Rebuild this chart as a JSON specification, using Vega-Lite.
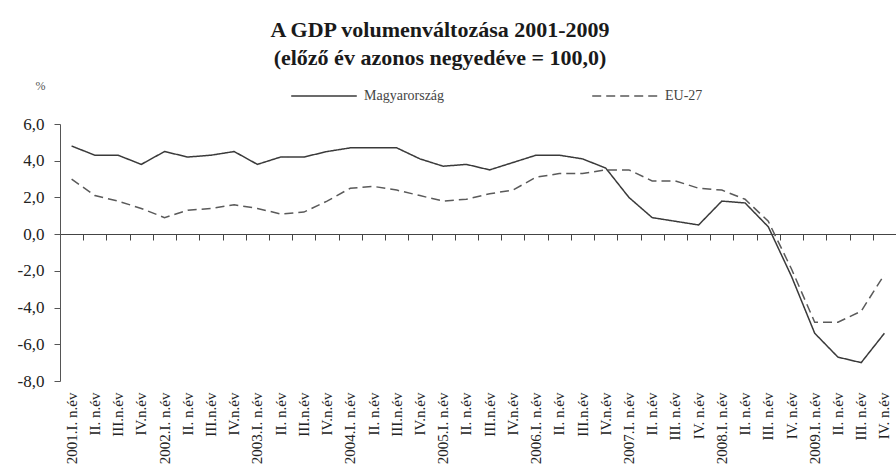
{
  "$schema": "https://vega.github.io/schema/vega-lite/v6.json",
  "description": "A GDP volumenváltozása 2001-2009, Magyarország és EU-27",
  "autosize": {"type": "none"},
  "padding": {"left": 60, "top": 124, "right": 0, "bottom": 90},
  "width": 836,
  "height": 257,
  "background": "white",
  "title": {
    "text": "A GDP volumenváltozása 2001-2009",
    "subtitle": "(előző év azonos negyedéve = 100,0)",
    "anchor": "middle",
    "frame": "group",
    "dx": -38,
    "offset": -8,
    "font": "Liberation Serif",
    "fontSize": 22,
    "fontWeight": "bold",
    "color": "#1a1a1a",
    "subtitleFont": "Liberation Serif",
    "subtitleFontSize": 22,
    "subtitleFontWeight": "bold",
    "subtitleColor": "#1a1a1a",
    "subtitlePadding": 6
  },
  "data": {
    "values": [
      {"period": "2001.I. n.év", "series": "Magyarország", "value": 4.8},
      {"period": "2001.II. n.év", "series": "Magyarország", "value": 4.3},
      {"period": "2001.III.n.év", "series": "Magyarország", "value": 4.3},
      {"period": "2001.IV.n.év", "series": "Magyarország", "value": 3.8},
      {"period": "2002.I. n.év", "series": "Magyarország", "value": 4.5},
      {"period": "2002.II. n.év", "series": "Magyarország", "value": 4.2},
      {"period": "2002.III.n.év", "series": "Magyarország", "value": 4.3},
      {"period": "2002.IV.n.év", "series": "Magyarország", "value": 4.5},
      {"period": "2003.I. n.év", "series": "Magyarország", "value": 3.8},
      {"period": "2003.II. n.év", "series": "Magyarország", "value": 4.2},
      {"period": "2003.III.n.év", "series": "Magyarország", "value": 4.2},
      {"period": "2003.IV.n.év", "series": "Magyarország", "value": 4.5},
      {"period": "2004.I. n.év", "series": "Magyarország", "value": 4.7},
      {"period": "2004.II. n.év", "series": "Magyarország", "value": 4.7},
      {"period": "2004.III.n.év", "series": "Magyarország", "value": 4.7},
      {"period": "2004.IV.n.év", "series": "Magyarország", "value": 4.1},
      {"period": "2005.I. n.év", "series": "Magyarország", "value": 3.7},
      {"period": "2005.II. n.év", "series": "Magyarország", "value": 3.8},
      {"period": "2005.III.n.év", "series": "Magyarország", "value": 3.5},
      {"period": "2005.IV.n.év", "series": "Magyarország", "value": 3.9},
      {"period": "2006.I. n.év", "series": "Magyarország", "value": 4.3},
      {"period": "2006.II. n.év", "series": "Magyarország", "value": 4.3},
      {"period": "2006.III.n.év", "series": "Magyarország", "value": 4.1},
      {"period": "2006.IV.n.év", "series": "Magyarország", "value": 3.6},
      {"period": "2007.I. n.év", "series": "Magyarország", "value": 2.0},
      {"period": "2007.II. n.év", "series": "Magyarország", "value": 0.9},
      {"period": "2007.III. n.év", "series": "Magyarország", "value": 0.7},
      {"period": "2007.IV. n.év", "series": "Magyarország", "value": 0.5},
      {"period": "2008.I. n.év", "series": "Magyarország", "value": 1.8},
      {"period": "2008.II. n.év", "series": "Magyarország", "value": 1.7},
      {"period": "2008.III. n.év", "series": "Magyarország", "value": 0.4},
      {"period": "2008.IV. n.év", "series": "Magyarország", "value": -2.3},
      {"period": "2009.I. n.év", "series": "Magyarország", "value": -5.4},
      {"period": "2009.II. n.év", "series": "Magyarország", "value": -6.7},
      {"period": "2009.III. n.év", "series": "Magyarország", "value": -7.0},
      {"period": "2009.IV. n.év", "series": "Magyarország", "value": -5.4},
      {"period": "2001.I. n.év", "series": "EU-27", "value": 3.0},
      {"period": "2001.II. n.év", "series": "EU-27", "value": 2.1},
      {"period": "2001.III.n.év", "series": "EU-27", "value": 1.8},
      {"period": "2001.IV.n.év", "series": "EU-27", "value": 1.4},
      {"period": "2002.I. n.év", "series": "EU-27", "value": 0.9},
      {"period": "2002.II. n.év", "series": "EU-27", "value": 1.3},
      {"period": "2002.III.n.év", "series": "EU-27", "value": 1.4},
      {"period": "2002.IV.n.év", "series": "EU-27", "value": 1.6},
      {"period": "2003.I. n.év", "series": "EU-27", "value": 1.4},
      {"period": "2003.II. n.év", "series": "EU-27", "value": 1.1},
      {"period": "2003.III.n.év", "series": "EU-27", "value": 1.2},
      {"period": "2003.IV.n.év", "series": "EU-27", "value": 1.8},
      {"period": "2004.I. n.év", "series": "EU-27", "value": 2.5},
      {"period": "2004.II. n.év", "series": "EU-27", "value": 2.6},
      {"period": "2004.III.n.év", "series": "EU-27", "value": 2.4},
      {"period": "2004.IV.n.év", "series": "EU-27", "value": 2.1},
      {"period": "2005.I. n.év", "series": "EU-27", "value": 1.8},
      {"period": "2005.II. n.év", "series": "EU-27", "value": 1.9},
      {"period": "2005.III.n.év", "series": "EU-27", "value": 2.2},
      {"period": "2005.IV.n.év", "series": "EU-27", "value": 2.4},
      {"period": "2006.I. n.év", "series": "EU-27", "value": 3.1},
      {"period": "2006.II. n.év", "series": "EU-27", "value": 3.3},
      {"period": "2006.III.n.év", "series": "EU-27", "value": 3.3},
      {"period": "2006.IV.n.év", "series": "EU-27", "value": 3.5},
      {"period": "2007.I. n.év", "series": "EU-27", "value": 3.5},
      {"period": "2007.II. n.év", "series": "EU-27", "value": 2.9},
      {"period": "2007.III. n.év", "series": "EU-27", "value": 2.9},
      {"period": "2007.IV. n.év", "series": "EU-27", "value": 2.5},
      {"period": "2008.I. n.év", "series": "EU-27", "value": 2.4},
      {"period": "2008.II. n.év", "series": "EU-27", "value": 1.9},
      {"period": "2008.III. n.év", "series": "EU-27", "value": 0.7},
      {"period": "2008.IV. n.év", "series": "EU-27", "value": -1.9},
      {"period": "2009.I. n.év", "series": "EU-27", "value": -4.8},
      {"period": "2009.II. n.év", "series": "EU-27", "value": -4.8},
      {"period": "2009.III. n.év", "series": "EU-27", "value": -4.2},
      {"period": "2009.IV. n.év", "series": "EU-27", "value": -2.2}
    ]
  },
  "encoding": {
    "x": {
      "field": "period",
      "type": "ordinal",
      "sort": null,
      "bandPosition": 0.5,
      "scale": {"type": "band", "paddingInner": 0, "paddingOuter": 0}
    },
    "y": {
      "field": "value",
      "type": "quantitative",
      "scale": {"domain": [-8, 6], "nice": false, "zero": false},
      "axis": {
        "values": [-8, -6, -4, -2, 0, 2, 4, 6],
        "labelExpr": "replace(replace(format(datum.value, '.1f'), '.', ','), '\u2212', '-')",
        "grid": false,
        "domainColor": "#555",
        "tickColor": "#555",
        "tickSize": 6,
        "labelPadding": 10,
        "labelFont": "Liberation Serif",
        "labelFontSize": 17,
        "labelColor": "#222",
        "title": "%",
        "titleAngle": 0,
        "titleX": -20,
        "titleY": -39,
        "titleAlign": "center",
        "titleBaseline": "middle",
        "titleFont": "Liberation Serif",
        "titleFontSize": 12,
        "titleFontWeight": "normal",
        "titleColor": "#555"
      }
    }
  },
  "layer": [
    {
      "mark": {"type": "line", "strokeWidth": 1.5},
      "encoding": {
        "x": {
          "field": "period",
          "type": "ordinal",
          "sort": null,
          "bandPosition": 0.5,
          "axis": {
            "title": null,
            "domain": false,
            "ticks": false,
            "labelAngle": 270,
            "labelPadding": 11,
            "labelFont": "Liberation Serif",
            "labelFontSize": 15,
            "labelColor": "#222",
            "labelExpr": "substring(datum.value, 5, 7) == 'I.' ? datum.value : substring(datum.value, 5)"
          }
        },
        "color": {
          "field": "series",
          "type": "nominal",
          "scale": {"domain": ["Magyarország", "EU-27"], "range": ["#3a3a3a", "#5a5a5a"]},
          "legend": {
            "title": null,
            "orient": "none",
            "direction": "horizontal",
            "legendX": 230,
            "legendY": -62,
            "symbolType": "stroke",
            "symbolSize": 4300,
            "symbolStrokeWidth": 1.6,
            "labelOffset": 6,
            "columnPadding": 144,
            "labelFont": "Liberation Serif",
            "labelFontSize": 14,
            "labelColor": "#444"
          }
        },
        "strokeDash": {
          "field": "series",
          "type": "nominal",
          "scale": {"domain": ["Magyarország", "EU-27"], "range": [[1, 0], [9, 5]]},
          "legend": {
            "title": null,
            "orient": "none",
            "direction": "horizontal",
            "legendX": 230,
            "legendY": -62,
            "symbolType": "stroke",
            "symbolSize": 4300,
            "symbolStrokeWidth": 1.6,
            "labelOffset": 6,
            "columnPadding": 144,
            "labelFont": "Liberation Serif",
            "labelFontSize": 14,
            "labelColor": "#444"
          }
        }
      }
    },
    {
      "mark": {"type": "line", "strokeOpacity": 0},
      "encoding": {
        "x": {
          "field": "period",
          "type": "ordinal",
          "sort": null,
          "bandPosition": 0.5,
          "axis": {
            "title": null,
            "orient": "top",
            "labels": false,
            "offset": -110,
            "domainColor": "#444",
            "tickColor": "#444",
            "tickSize": -6,
            "tickBand": "extent"
          }
        },
        "detail": {"field": "series", "type": "nominal"}
      }
    }
  ],
  "resolve": {"axis": {"x": "independent"}},
  "config": {
    "view": {"stroke": null},
    "axis": {"domainWidth": 1, "tickWidth": 1}
  }
}
